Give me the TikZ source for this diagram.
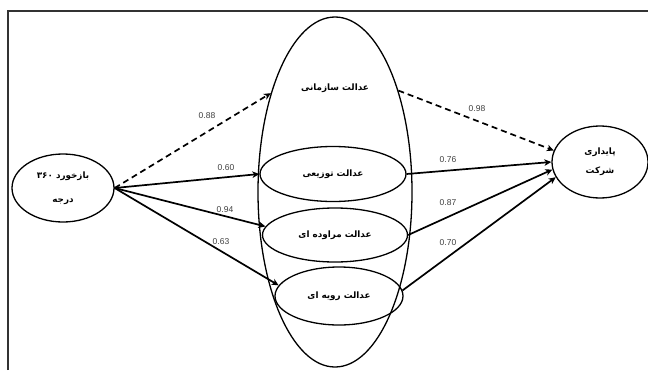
\documentclass[tikz,border=0pt]{standalone}
\usepackage{fontspec}
\setmainfont{Liberation Sans}
\newfontfamily\fa[Script=Arabic]{DejaVu Sans}
\TeXXeTstate=1
\usetikzlibrary{shapes.geometric,arrows.meta}
\tikzset{
  ell/.style={ellipse, draw, line width=1.3pt, inner sep=0pt, align=center,
              font=\fa\bfseries\fontsize{8.8}{10}\selectfont},
  fatxt/.style={inner sep=0pt, font=\fa\bfseries\fontsize{8.8}{10}\selectfont},
  conn/.style={line width=1.7pt, -{Stealth[length=7pt,width=6.5pt,inset=2pt]}},
  dconn/.style={conn, dash pattern=on 6pt off 4pt},
  lbl/.style={inner sep=0pt, text=black!75, font=\fontsize{8.5}{10}\selectfont}
}
\begin{document}
\begin{tikzpicture}[x=1pt,y=-1pt]
\useasboundingbox (0,0) rectangle (648,370);
\fill[white] (0,0) rectangle (648,370);
\draw[line width=1.4pt, black!80] (8,370) -- (8,11) -- (648,11);

% nodes
\node[ell, minimum width=102pt, minimum height=68pt] (fb) at (63,188)
  {\beginR بازخورد \beginL۳۶۰\endL\endR\\[14pt]\beginR درجه\endR};
\node[ell, minimum width=154pt, minimum height=350pt] (org) at (335,192) {};
\node[fatxt] (orgt) at (335,88) {\beginR عدالت سازمانی\endR};
\node[ell, minimum width=146pt, minimum height=55pt] (dist) at (333,174) {\beginR عدالت توزیعی\endR};
\node[ell, minimum width=145pt, minimum height=54pt] (inter) at (335,235) {\beginR عدالت مراوده ای\endR};
\node[ell, minimum width=128pt, minimum height=58pt] (proc) at (339,296) {\beginR عدالت رویه ای\endR};
\node[ell, minimum width=96pt, minimum height=72pt] (pay) at (600,162)
  {\beginR پایداری\endR\\[9pt]\beginR شرکت\endR};

% connectors
\draw[dconn] (fb.east) -- (org.123);
\draw[conn] (fb.east) -- (dist.west);
\draw[conn] (fb.east) -- (inter.173);
\draw[conn] (fb.east) -- (proc.170);
\draw[dconn] (org.58) -- (pay.166);
\draw[conn] (dist.east) -- (pay.180);
\draw[conn] (inter.east) -- (pay.189);
\draw[conn] (proc.5) -- (pay.199);

% labels
\node[lbl] (l1) at (207,116) {0.88};
\node[lbl] (l2) at (226,168) {0.60};
\node[lbl] (l3) at (225,210) {0.94};
\node[lbl] (l4) at (221,242) {0.63};
\node[lbl] (l5) at (477,109) {0.98};
\node[lbl] (l6) at (448,160) {0.76};
\node[lbl] (l7) at (448,203) {0.87};
\node[lbl] (l8) at (448,243) {0.70};
\end{tikzpicture}
\end{document}
